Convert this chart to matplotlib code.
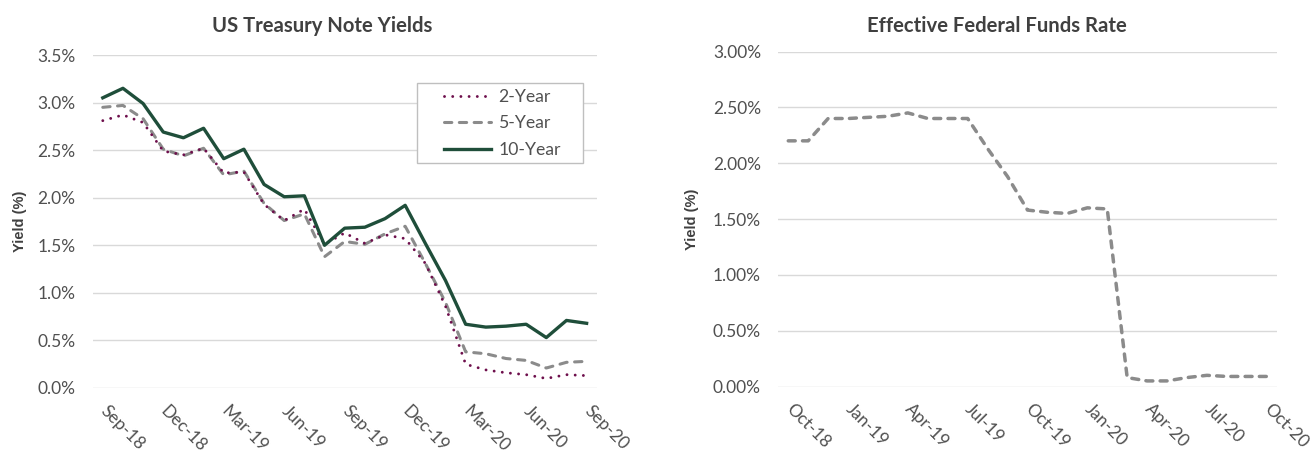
import numpy as np
import matplotlib
matplotlib.use('Agg')
import matplotlib.pyplot as plt
from matplotlib.ticker import FuncFormatter
from matplotlib.patches import Rectangle

# treasury note yields, month end, Sep-18 .. Sep-20
treasury_months = ['Sep-18', 'Oct-18', 'Nov-18', 'Dec-18', 'Jan-19', 'Feb-19', 'Mar-19',
                   'Apr-19', 'May-19', 'Jun-19', 'Jul-19', 'Aug-19', 'Sep-19', 'Oct-19',
                   'Nov-19', 'Dec-19', 'Jan-20', 'Feb-20', 'Mar-20', 'Apr-20', 'May-20',
                   'Jun-20', 'Jul-20', 'Aug-20', 'Sep-20']
yield_2y = [2.81, 2.87, 2.79, 2.49, 2.45, 2.52, 2.26, 2.27, 1.93, 1.76, 1.88, 1.51, 1.63,
            1.52, 1.61, 1.57, 1.31, 0.86, 0.25, 0.19, 0.16, 0.14, 0.10, 0.14, 0.13]
yield_5y = [2.95, 2.97, 2.83, 2.51, 2.44, 2.52, 2.24, 2.28, 1.94, 1.76, 1.83, 1.38, 1.54,
            1.51, 1.62, 1.70, 1.31, 0.90, 0.38, 0.36, 0.31, 0.29, 0.21, 0.27, 0.28]
yield_10y = [3.05, 3.15, 2.99, 2.69, 2.63, 2.73, 2.41, 2.51, 2.14, 2.01, 2.02, 1.50, 1.68,
             1.69, 1.78, 1.92, 1.52, 1.13, 0.67, 0.64, 0.65, 0.67, 0.53, 0.71, 0.68]

# effective fed funds rate, Oct-18 .. Oct-20
ffr_months = ['Oct-18', 'Nov-18', 'Dec-18', 'Jan-19', 'Feb-19', 'Mar-19', 'Apr-19',
              'May-19', 'Jun-19', 'Jul-19', 'Aug-19', 'Sep-19', 'Oct-19', 'Nov-19',
              'Dec-19', 'Jan-20', 'Feb-20', 'Mar-20', 'Apr-20', 'May-20', 'Jun-20',
              'Jul-20', 'Aug-20', 'Sep-20', 'Oct-20']
ffr_rate = [2.20, 2.20, 2.40, 2.40, 2.41, 2.42, 2.45, 2.40, 2.40, 2.40, 2.13, 1.88, 1.58,
            1.56, 1.55, 1.60, 1.59, 0.08, 0.05, 0.05, 0.08, 0.10, 0.09, 0.09, 0.09]

MAROON = '#6e0f4c'
GREY = '#8b8b8b'
GREEN = '#1f4e3a'
TXT = '#505050'

plt.rcParams['font.family'] = ['Lato', 'DejaVu Sans']

W, H = 1311, 453
fig = plt.figure(figsize=(W / 100, H / 100), dpi=100)


def px_axes(l, t, r, b):
    return fig.add_axes([l / W, 1 - b / H, (r - l) / W, (b - t) / H])


def style(ax, ymax, fmt, labels, label_x):
    for s in ax.spines.values():
        s.set_visible(False)
    ax.set_ylim(0, ymax)
    ax.set_yticks(np.arange(0, ymax + 1e-9, 0.5))
    ax.yaxis.set_major_formatter(FuncFormatter(lambda v, _: fmt.format(v)))
    ax.grid(axis='y', color='#d9d9d9', lw=1.0)
    ax.set_axisbelow(True)
    ax.tick_params(axis='both', length=0, labelsize=12.5, labelcolor=TXT)
    ax.tick_params(axis='y', pad=12.5)
    ax.tick_params(axis='x', pad=14.5)
    ax.set_xlim(-0.5, len(labels) - 0.5)
    ticks = list(range(0, len(labels), 3))
    ax.set_xticks(ticks)
    ax.set_xticklabels([labels[i] for i in ticks], rotation=-45, ha='left',
                       va='center', rotation_mode='anchor')
    ax.set_ylabel('Yield (%)', fontfamily='Liberation Sans', fontweight='bold',
                  fontsize=10.5, color='#404040')
    ax.yaxis.set_label_coords(label_x, 0.5)


# left: treasury yields
ax1 = px_axes(92.7, 55, 596.7, 388)
x1 = np.arange(len(treasury_months))
ax1.plot(x1, yield_2y, color=MAROON, lw=2.1, linestyle=(0, (0.01, 2.8)),
         dash_capstyle='round', zorder=3, label='2-Year')
ax1.plot(x1, yield_5y, color=GREY, lw=2.2, linestyle=(0, (2.4, 2.45)),
         dash_capstyle='round', zorder=2, label='5-Year')
ax1.plot(x1, yield_10y, color=GREEN, lw=2.4, zorder=4, label='10-Year')
style(ax1, 3.5, '{:.1f}%', treasury_months, -0.131)

box = Rectangle((417.3 / W, 1 - 163.3 / H), (582.7 - 417.3) / W, 80 / H,
                transform=fig.transFigure, facecolor='white', edgecolor='#bfbfbf',
                lw=1.0, zorder=4.5, clip_on=False)
ax1.add_patch(box)
ax1.legend(loc='center left', bbox_to_anchor=(444 / W, 1 - 123.3 / H),
           bbox_transform=fig.transFigure, frameon=False, borderpad=0,
           borderaxespad=0, handlelength=2.65, handletextpad=0.45,
           labelspacing=0.6, fontsize=12.7, labelcolor=TXT)

# right: fed funds
ax2 = px_axes(778.3, 51.5, 1276.7, 386.5)
x2 = np.arange(len(ffr_months))
ax2.plot(x2, ffr_rate, color=GREY, lw=2.5, linestyle=(0, (2.0, 2.1)),
         dash_capstyle='round', solid_joinstyle='round')
style(ax2, 3.0, '{:.2f}%', ffr_months, -0.159)

fig.text(322 / W, 1 - 32 / H, 'US Treasury Note Yields', ha='center', va='baseline',
         fontsize=14.6, fontweight='bold', color='#404040')
fig.text(997 / W, 1 - 32 / H, 'Effective Federal Funds Rate', ha='center', va='baseline',
         fontsize=14.6, fontweight='bold', color='#404040')

fig.savefig('out.png', dpi=100)
